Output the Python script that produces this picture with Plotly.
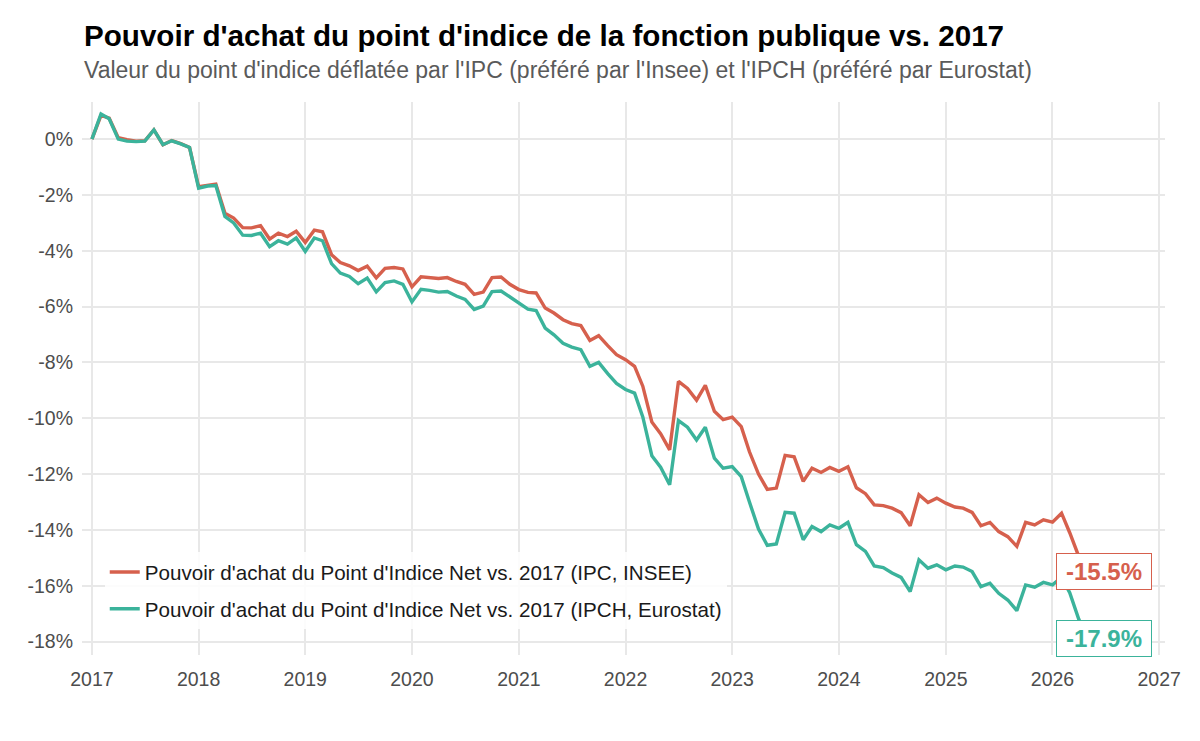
import plotly.graph_objects as go
import pandas as pd

# Monthly dates, Jan 2017 -> May 2026
dates = pd.date_range("2017-01-01", "2026-05-01", freq="MS").strftime("%Y-%m-%d").tolist()

ipc_insee = [
    0.0, 0.85, 0.75, 0.05, -0.02, -0.07, -0.06, 0.33, -0.2, -0.05, -0.16, -0.3,
    -1.7, -1.64, -1.61, -2.65, -2.83, -3.17, -3.18, -3.1, -3.58, -3.37, -3.49, -3.3,
    -3.7, -3.26, -3.32, -4.14, -4.42, -4.54, -4.71, -4.55, -4.97, -4.63, -4.6, -4.65,
    -5.29, -4.93, -4.95, -4.99, -4.96, -5.1, -5.2, -5.56, -5.48, -4.96, -4.94, -5.2,
    -5.39, -5.49, -5.51, -6.05, -6.23, -6.47, -6.61, -6.68, -7.21, -7.04, -7.4, -7.72,
    -7.9, -8.14, -8.85, -10.13, -10.55, -11.13, -8.68, -8.93, -9.35, -8.82, -9.75, -10.05,
    -9.96, -10.3, -11.2, -12.0, -12.55, -12.5, -11.33, -11.38, -12.26, -11.79, -11.94, -11.76,
    -11.9, -11.74, -12.49, -12.7, -13.1, -13.13, -13.22, -13.38, -13.85, -12.74, -13.02, -12.86,
    -13.04, -13.18, -13.22, -13.37, -13.85, -13.73, -14.06, -14.24, -14.59, -13.73, -13.82, -13.64,
    -13.72, -13.4, -14.1, -14.95, -15.5,
]

ipch_eurostat = [
    0.0, 0.9, 0.73, 0.0, -0.07, -0.09, -0.07, 0.33, -0.2, -0.06, -0.17, -0.3,
    -1.76, -1.68, -1.66, -2.77, -3.0, -3.44, -3.45, -3.37, -3.85, -3.64, -3.76, -3.54,
    -4.02, -3.54, -3.64, -4.46, -4.8, -4.92, -5.18, -4.98, -5.47, -5.14, -5.08, -5.2,
    -5.83, -5.38, -5.42, -5.48, -5.46, -5.62, -5.74, -6.1, -5.98, -5.46, -5.44, -5.66,
    -5.87, -6.09, -6.14, -6.77, -7.01, -7.31, -7.45, -7.54, -8.14, -8.0, -8.4, -8.75,
    -8.97, -9.1, -9.95, -11.34, -11.75, -12.38, -10.08, -10.32, -10.78, -10.32, -11.43, -11.79,
    -11.73, -12.09, -13.0, -13.97, -14.55, -14.5, -13.37, -13.4, -14.35, -13.88, -14.06, -13.82,
    -13.94, -13.73, -14.53, -14.77, -15.29, -15.35, -15.54, -15.7, -16.21, -15.07, -15.37, -15.25,
    -15.43, -15.29, -15.33, -15.49, -16.03, -15.91, -16.27, -16.51, -16.89, -15.97, -16.05, -15.88,
    -15.97, -15.7, -16.25, -17.2, -17.9,
]

series_names = [
    "Pouvoir d'achat du Point d'Indice Net vs. 2017 (IPC, INSEE)",
    "Pouvoir d'achat du Point d'Indice Net vs. 2017 (IPCH, Eurostat)",
]
end_labels = ["-15.5%", "-17.9%"]

y_tickvals = [0, -2, -4, -6, -8, -10, -12, -14, -16, -18]
y_ticktext = ["0%", "-2%", "-4%", "-6%", "-8%", "-10%", "-12%", "-14%", "-16%", "-18%"]
x_tickvals = [f"{y}-01-01" for y in range(2017, 2028)]
x_ticktext = [str(y) for y in range(2017, 2028)]

title = "Pouvoir d'achat du point d'indice de la fonction publique vs. 2017"
subtitle = "Valeur du point d'indice déflatée par l'IPC (préféré par l'Insee) et l'IPCH (préféré par Eurostat)"

RED = "#D6604D"
GREEN = "#3BB39B"
FONT = "Liberation Sans"

fig = go.Figure()
for vals, name, col in [(ipc_insee, series_names[0], RED), (ipch_eurostat, series_names[1], GREEN)]:
    fig.add_trace(go.Scatter(
        x=dates, y=vals, mode="lines", name=name,
        line=dict(color=col, width=3.4), legendgroup=name,
    ))

# zero reference line
fig.add_shape(type="line", xref="paper", x0=0, x1=1, yref="y", y0=0, y1=0,
              line=dict(color="#4a4a4a", width=1.5, dash="8px,7px"), layer="below")

# end labels
for vals, lab, col in [(ipc_insee, end_labels[0], RED), (ipch_eurostat, end_labels[1], GREEN)]:
    fig.add_annotation(x=dates[-1], y=vals[-1], text=f"<b>{lab}</b>", showarrow=False,
                       xanchor="center", yanchor="middle", xshift=16,
                       width=86, height=27,
                       font=dict(family=FONT, size=24, color=col),
                       bgcolor="white", bordercolor=col, borderwidth=1, borderpad=4)

# title & subtitle
fig.add_annotation(xref="paper", yref="paper", x=0, y=1.121, xanchor="left", yanchor="middle",
                   text=f"<b>{title}</b>", showarrow=False,
                   font=dict(family=FONT, size=29.6, color="black"))
fig.add_annotation(xref="paper", yref="paper", x=0, y=1.058, xanchor="left", yanchor="middle",
                   text=subtitle, showarrow=False,
                   font=dict(family=FONT, size=23, color="#5a5a5a"))

fig.update_layout(
    width=1200, height=741,
    margin=dict(l=82, r=35, t=102, b=86),
    paper_bgcolor="white", plot_bgcolor="white",
    font=dict(family=FONT, size=19.5, color="#4d4d4d"),
    showlegend=True,
    legend=dict(x=0.021, y=0.186, xanchor="left", yanchor="top",
                bgcolor="rgba(255,255,255,0.85)", font=dict(size=20.6, color="#1a1a1a"),
                tracegroupgap=7, traceorder="grouped"),
    xaxis=dict(type="date", range=["2016-11-28", "2027-01-21"],
               tickvals=x_tickvals, ticktext=x_ticktext,
               showgrid=True, gridcolor="#E8E8E8", gridwidth=1.6,
               zeroline=False, showline=False, ticks="", ticklabelstandoff=10),
    yaxis=dict(range=[-18.48, 1.33], tickvals=y_tickvals, ticktext=y_ticktext,
               showgrid=True, gridcolor="#E8E8E8", gridwidth=1.6,
               zeroline=False, showline=False, ticks="", ticklabelstandoff=8),
)

fig.write_html("out.html")
